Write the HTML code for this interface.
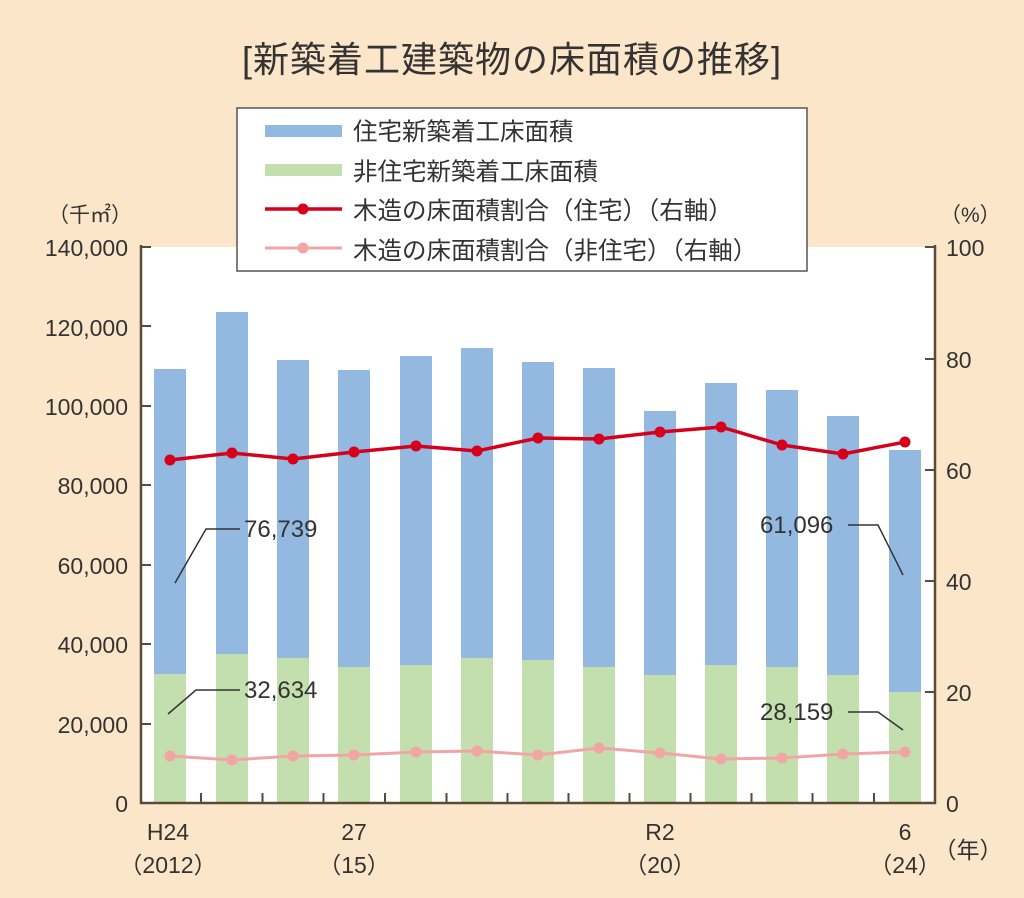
<!DOCTYPE html>
<html><head><meta charset="utf-8"><style>
body{margin:0;background:#fce6c9;}
svg{display:block;font-family:"Liberation Sans","Noto Sans CJK JP",sans-serif;}
</style></head><body>
<svg width="1024" height="898" viewBox="0 0 1024 898" xmlns="http://www.w3.org/2000/svg">
<rect width="1024" height="898" fill="#fce6c9"/>
<text x="512" y="72" font-size="36" text-anchor="middle" fill="#333" letter-spacing="1">[新築着工建築物の床面積の推移]</text>
<rect x="141" y="247" width="794" height="556" fill="#fff"/>
<g id="bars"></g>
<g stroke="#5a4a3a" stroke-width="2.5" fill="none">
<line x1="141" y1="245" x2="141" y2="804"/>
<line x1="935" y1="245" x2="935" y2="804"/>
<line x1="140" y1="803" x2="936" y2="803"/>
</g>
<g id="ticks" stroke="#5a4a3a" stroke-width="2"></g>
<g font-size="23" fill="#333" text-anchor="end">
<text x="128" y="812">0</text><text x="128" y="733">20,000</text><text x="128" y="653">40,000</text><text x="128" y="574">60,000</text><text x="128" y="494">80,000</text><text x="128" y="415">100,000</text><text x="128" y="336">120,000</text><text x="128" y="256">140,000</text>
</g>
<g font-size="23" fill="#333" text-anchor="start">
<text x="946" y="812">0</text><text x="946" y="701">20</text><text x="946" y="590">40</text><text x="946" y="479">60</text><text x="946" y="368">80</text><text x="946" y="256">100</text>
</g>
<text x="48" y="222" font-size="21" fill="#333">（千㎡）</text>
<text x="940" y="222" font-size="21" fill="#333">（%）</text>
<g font-size="23" fill="#333" text-anchor="middle">
<text x="168" y="840">H24</text><text x="168" y="873">（2012）</text>
<text x="354" y="840">27</text><text x="354" y="873">（15）</text>
<text x="660" y="840">R2</text><text x="660" y="873">（20）</text>
<text x="905" y="840">6</text><text x="905" y="873">（24）</text>
<text x="968" y="858">（年）</text>
</g>
<g id="lines"></g>
<g stroke="#333" stroke-width="1.5" fill="none">
<polyline points="175,583 206,529 240,529"/>
<polyline points="168,714 196,690 240,690"/>
<polyline points="848,525 878,525 903,575"/>
<polyline points="848,712 878,712 903,730"/>
</g>
<g font-size="24" fill="#333">
<text x="244" y="537">76,739</text>
<text x="244" y="698">32,634</text>
<text x="760" y="533">61,096</text>
<text x="760" y="720">28,159</text>
</g>
<rect x="237" y="108" width="570" height="163" fill="#fff" stroke="#555" stroke-width="1.5"/>
<rect x="265" y="125" width="77" height="12" fill="#93b9e0"/>
<rect x="265" y="164" width="77" height="12" fill="#c4dfae"/>
<line x1="265" y1="209" x2="342" y2="209" stroke="#d7001c" stroke-width="3.5"/>
<circle cx="303" cy="209" r="5.5" fill="#d7001c"/>
<line x1="265" y1="248" x2="342" y2="248" stroke="#f2a5a5" stroke-width="3"/>
<circle cx="303" cy="248" r="5.5" fill="#f2a5a5"/>
<g font-size="24.5" fill="#333">
<text x="353" y="140">住宅新築着工床面積</text>
<text x="353" y="180">非住宅新築着工床面積</text>
<text x="353" y="219">木造の床面積割合（住宅）（右軸）</text>
<text x="353" y="259">木造の床面積割合（非住宅）（右軸）</text>
</g>
<script>
var cx=[170,232,293,354,416,477,538,599,660,721,782,843,905];
var tot=[369,312,360,370,356,348,362,368,411,383,390,416,450];
var nr=[674,654,658,667,665,658,660,667,675,665,667,675,692];
var red=[460,453,459,452,446,451,438,439,432,427,445,454,442];
var pk=[756,760,756,755,752,751,755,748,753,759,758,754,752];
var ns="http://www.w3.org/2000/svg",b=document.getElementById('bars'),t=document.getElementById('ticks'),l=document.getElementById('lines');
function el(p,n,a){var e=document.createElementNS(ns,n);for(var k in a)e.setAttribute(k,a[k]);p.appendChild(e);}
for(var i=0;i<13;i++){
el(b,'rect',{x:cx[i]-16,y:tot[i],width:32,height:nr[i]-tot[i],fill:'#93b9e0'});
el(b,'rect',{x:cx[i]-16,y:nr[i],width:32,height:803-nr[i],fill:'#c4dfae'});
if(i<12)el(t,'line',{x1:(cx[i]+cx[i+1])/2,y1:793,x2:(cx[i]+cx[i+1])/2,y2:803});
}
[247,326,406,485,565,644,724].forEach(function(y){el(t,'line',{x1:141,y1:y,x2:151,y2:y});});
[247,359,470,581,692].forEach(function(y){el(t,'line',{x1:925,y1:y,x2:935,y2:y});});
el(l,'polyline',{points:cx.map(function(x,i){return x+','+pk[i]}).join(' '),fill:'none',stroke:'#f2a5a5','stroke-width':3});
cx.forEach(function(x,i){el(l,'circle',{cx:x,cy:pk[i],r:5.5,fill:'#f2a5a5'});});
el(l,'polyline',{points:cx.map(function(x,i){return x+','+red[i]}).join(' '),fill:'none',stroke:'#d7001c','stroke-width':3.5});
cx.forEach(function(x,i){el(l,'circle',{cx:x,cy:red[i],r:5.5,fill:'#d7001c'});});
</script>
</svg>
</body></html>
